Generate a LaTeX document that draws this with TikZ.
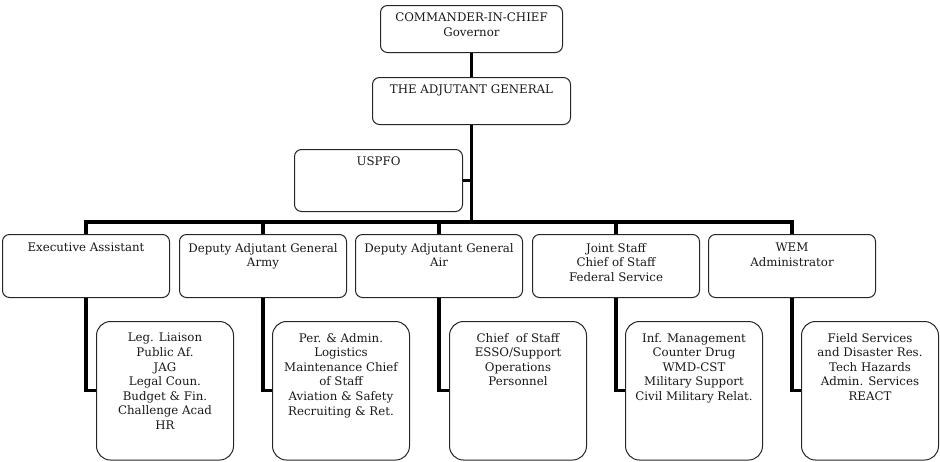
\documentclass[tikz,border=0pt]{standalone}
\usepackage{fontspec}
\setmainfont{DejaVu Serif}
\begin{document}
\begin{tikzpicture}[x=1pt,y=-1pt,
  box/.style={draw=black!85, line width=1pt, rounded corners=7pt, anchor=north west, inner sep=0pt},
  bigbox/.style={box, rounded corners=14pt, minimum width=137pt, minimum height=138.5pt},
  midbox/.style={box, minimum width=167pt, minimum height=63pt},
  txt/.style={anchor=north, align=center, inner sep=0pt, font=\fontsize{11.8}{14.6}\selectfont, text=black!90},
  conn/.style={line width=3.2pt, black}]
\path[use as bounding box] (0,0) rectangle (940,461);
% top
\node[box, minimum width=182pt, minimum height=47pt] (cic) at (380,5) {};
\node[txt] (cict) at ([yshift=-8pt]cic.north) {COMMANDER-IN-CHIEF\\Governor};
\node[box, minimum width=198pt, minimum height=47pt] (tag) at (372,77) {};
\node[txt] (tagt) at ([yshift=-8pt]tag.north) {THE ADJUTANT GENERAL};
\node[box, minimum width=168pt, minimum height=62pt] (usp) at (294,149) {};
\node[txt] (uspt) at ([yshift=-8pt]usp.north) {USPFO};
% level 2
\node[midbox] (ea) at (2,234) {};
\node[txt] (eat) at ([yshift=-9pt]ea.north) {Executive Assistant};
\node[midbox] (army) at (179,234) {};
\node[txt] (armyt) at ([yshift=-9pt]army.north) {Deputy Adjutant General\\Army};
\node[midbox] (air) at (355,234) {};
\node[txt] (airt) at ([yshift=-9pt]air.north) {Deputy Adjutant General\\Air};
\node[midbox] (js) at (532,234) {};
\node[txt] (jst) at ([yshift=-9pt]js.north) {Joint Staff\\Chief of Staff\\Federal Service};
\node[midbox] (wem) at (708,234) {};
\node[txt] (wemt) at ([yshift=-9pt]wem.north) {WEM\\Administrator};
% level 3
\node[bigbox] (l3a) at (96,321) {};
\node[txt] (l3at) at ([yshift=-12pt]l3a.north) {Leg. Liaison\\Public Af.\\JAG\\Legal Coun.\\Budget \& Fin.\\Challenge Acad\\HR};
\node[bigbox] (l3b) at (272,321) {};
\node[txt] (l3bt) at ([yshift=-12pt]l3b.north) {Per. \& Admin.\\Logistics\\Maintenance Chief\\of Staff\\Aviation \& Safety\\Recruiting \& Ret.};
\node[bigbox] (l3c) at (449,321) {};
\node[txt] (l3ct) at ([yshift=-12pt]l3c.north) {Chief~ of Staff\\ESSO/Support\\Operations\\Personnel};
\node[bigbox] (l3d) at (625,321) {};
\node[txt] (l3dt) at ([yshift=-12pt]l3d.north) {Inf. Management\\Counter Drug\\WMD-CST\\Military Support\\Civil Military Relat.};
\node[bigbox] (l3e) at (801,321) {};
\node[txt] (l3et) at ([yshift=-12pt]l3e.north) {Field Services\\and Disaster Res.\\Tech Hazards\\Admin. Services\\REACT};
% connectors
\coordinate (bar) at (471,222);
\draw[conn] (cic.south) -- (tag.north);
\draw[conn] (usp.east) -- (usp.east -| tag.south);
\foreach \n in {ea,army,air,js,wem}{
  \draw[conn] (tag.south) |- (\n.north |- bar) -- (\n.north);
}
\draw[conn] (ea.south) |- (l3a.west);
\draw[conn] (army.south) |- (l3b.west);
\draw[conn] (air.south) |- (l3c.west);
\draw[conn] (js.south) |- (l3d.west);
\draw[conn] (wem.south) |- (l3e.west);
\end{tikzpicture}
\end{document}
